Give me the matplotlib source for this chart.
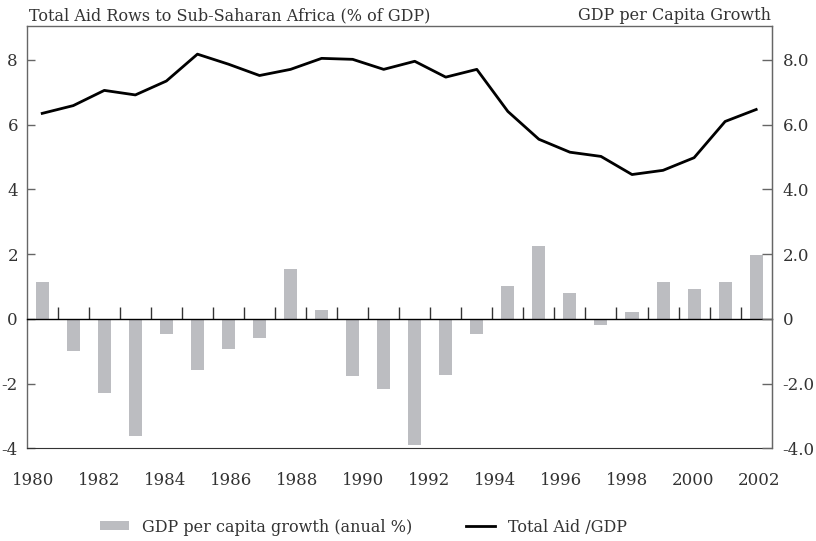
import matplotlib
matplotlib.use('Agg')
import matplotlib.pyplot as plt
from matplotlib.patches import Patch
from matplotlib.lines import Line2D
import numpy as np

plt.rcParams['font.family'] = ['DejaVu Serif']
plt.rcParams['text.color'] = '#333333'

years = list(range(1980, 2004))
gdp_growth = [1.14, -1.00, -2.29, -3.62, -0.47, -1.58, -0.93, -0.59, 1.53, 0.26,
              -1.77, -2.17, -3.89, -1.74, -0.47, 1.00, 2.24, 0.79, -0.19, 0.20,
              1.13, 0.91, 1.13, 1.96]
aid_gdp = [6.35, 6.59, 7.06, 6.92, 7.35, 8.18, 7.87, 7.52, 7.71, 8.05,
           8.02, 7.71, 7.96, 7.47, 7.71, 6.41, 5.55, 5.15, 5.02, 4.46,
           4.59, 4.98, 6.10, 6.47]
year_labels = list(range(1980, 2003, 2))
left_ticks = [-4, -2, 0, 2, 4, 6, 8]
left_tick_labels = ['-4', '-2', '0', '2', '4', '6', '8']
right_tick_labels = ['-4.0', '-2.0', '0', '2.0', '4.0', '6.0', '8.0']

BAR_COLOR = '#bcbdc1'
TXT = '#333333'
FS = 12
FS_T = 11.5

fig = plt.figure(figsize=(8.16, 5.41), dpi=100)
ax = fig.add_axes([26.7 / 816, 1 - 448.3 / 541, 745 / 816, (448.3 - 26) / 541])

x = np.arange(len(years))
ax.bar(x, gdp_growth, width=0.42, color=BAR_COLOR, zorder=2)
ax.plot(x, aid_gdp, color='black', lw=2.0, zorder=3, solid_joinstyle='round')
ax.set_xlim(-0.5, len(years) - 0.5)
ax.set_ylim(-4, 9.05)

ax.spines['bottom'].set_position(('data', 0))
ax.spines['bottom'].set_color('black')
ax.spines['bottom'].set_linewidth(1.0)
ax.spines['bottom'].set_zorder(4)
for s in ['top', 'left', 'right']:
    ax.spines[s].set_color('#666666')
    ax.spines[s].set_linewidth(1.0)
ax.set_xticks(x[:-1] + 0.5)
ax.tick_params(axis='x', direction='in', length=9, width=1, color='#333333',
               labelbottom=False)
ax.set_yticks(left_ticks)
ax.set_yticklabels(left_tick_labels)
ax.tick_params(axis='y', direction='in', length=6, width=1, color='#666666',
               pad=6.3, labelsize=FS, labelcolor=TXT)

# year labels on the frame bottom
ax2 = ax.twiny()
ax2.set_xlim(1979.817, 2002.393)
ax2.xaxis.set_ticks_position('bottom')
ax2.xaxis.set_label_position('bottom')
ax2.spines['bottom'].set_position(('axes', 0))
ax2.spines['bottom'].set_color('#333333')
for s in ['top', 'left', 'right']:
    ax2.spines[s].set_visible(False)
ax2.set_xticks(year_labels)
ax2.set_xticklabels([str(y) for y in year_labels])
ax2.tick_params(axis='x', length=0, pad=17, labelsize=FS, labelcolor=TXT)

# right axis
ax3 = ax.twinx()
ax3.set_ylim(ax.get_ylim())
ax3.set_yticks(left_ticks)
ax3.set_yticklabels(right_tick_labels)
ax3.tick_params(axis='y', direction='in', length=7, width=1, color='#666666',
                pad=7.7, labelsize=FS, labelcolor=TXT)
for s in ['top', 'left', 'bottom']:
    ax3.spines[s].set_visible(False)
ax3.spines['right'].set_color('#666666')

fig.text(29 / 816, 1 - 20 / 541, 'Total Aid Rows to Sub-Saharan Africa (% of GDP)',
         ha='left', va='baseline', fontsize=FS_T, color=TXT)
fig.text(770.7 / 816, 1 - 20 / 541, 'GDP per Capita Growth',
         ha='right', va='baseline', fontsize=FS_T, color=TXT)

handles = [Patch(facecolor=BAR_COLOR, edgecolor='none', label='GDP per capita growth (anual %)'),
           Line2D([0], [0], color='black', lw=2.0, label='Total Aid /GDP')]
leg = fig.legend(handles=handles, loc='center left', bbox_to_anchor=(100 / 816, 1 - 527 / 541),
                 ncol=2, frameon=False, handlelength=1.8, handleheight=0.5,
                 handletextpad=0.85, columnspacing=3.35, borderpad=0, borderaxespad=0,
                 fontsize=FS_T)
for t in leg.get_texts():
    t.set_color(TXT)

fig.savefig('out.png', dpi=100)
